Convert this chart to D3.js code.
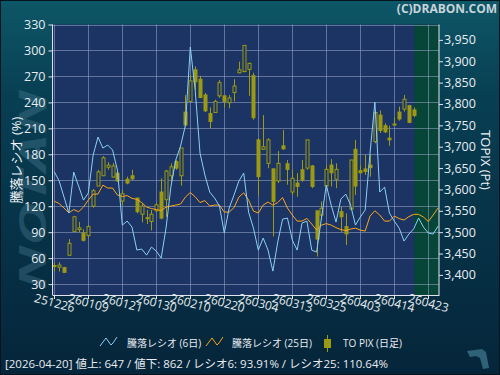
<!DOCTYPE html>
<html>
<head>
<meta charset="utf-8">
<script src="https://cdn.jsdelivr.net/npm/d3@7"></script>
<style>
html, body { margin: 0; padding: 0; background: #06283b; }
svg { display: block; font-family: "Open Sans", "Noto Sans CJK JP", sans-serif; }
</style>
</head>
<body>
<div id="chart"></div>
<script>
const width = 500;
const height = 375;
const plot = { l: 52.5, r: 439, t: 24.5, b: 295 };

// tick labels (every 7 trading days)
const tickLabels = ["251226", "260109", "260121", "260130", "260210", "260220",
  "260304", "260313", "260325", "260403", "260414", "260423"];

// TOPIX daily candles 2025-12-26 .. 2026-04-20
const open = [3422, 3418, 3417, 3446, 3502, 3506, 3498, 3492, 3561, 3608,
  3632, 3652, 3629, 3638, 3573, 3624, 3632, 3580, 3542, 3533,
  3525, 3550, 3594, 3576, 3632, 3665, 3632, 3781, 3806, 3880,
  3858, 3821, 3778, 3780, 3819, 3819, 3803, 3827, 3873, 3876,
  3881, 3866, 3716, 3694, 3661, 3648, 3620, 3702, 3660, 3594,
  3615, 3646, 3650, 3655, 3550, 3540, 3608, 3657, 3624, 3548,
  3513, 3554, 3694, 3644, 3648, 3657, 3712, 3774, 3749, 3720,
  3752, 3781, 3788, 3796, 3786];
const high = [3428, 3430, 3419, 3484, 3538, 3524, 3507, 3517, 3601, 3646,
  3678, 3664, 3662, 3643, 3599, 3630, 3646, 3580, 3568, 3552,
  3552, 3569, 3626, 3646, 3661, 3669, 3697, 3821, 3868, 3888,
  3866, 3826, 3792, 3810, 3856, 3819, 3821, 3858, 3899, 3938,
  3897, 3873, 3720, 3774, 3720, 3650, 3690, 3739, 3669, 3646,
  3638, 3669, 3716, 3657, 3550, 3572, 3657, 3671, 3661, 3560,
  3544, 3669, 3716, 3657, 3681, 3683, 3785, 3785, 3755, 3749,
  3769, 3794, 3821, 3798, 3792];
const low = [3408, 3408, 3405, 3446, 3502, 3500, 3478, 3486, 3557, 3608,
  3632, 3646, 3627, 3618, 3563, 3612, 3621, 3544, 3523, 3519,
  3504, 3547, 3530, 3536, 3618, 3646, 3609, 3746, 3805, 3833,
  3814, 3781, 3743, 3779, 3814, 3792, 3790, 3806, 3872, 3874,
  3819, 3763, 3586, 3693, 3650, 3490, 3615, 3693, 3611, 3587,
  3583, 3618, 3646, 3603, 3443, 3529, 3599, 3607, 3603, 3501,
  3470, 3552, 3587, 3638, 3634, 3630, 3708, 3732, 3732, 3702,
  3751, 3761, 3782, 3755, 3769];
const close = [3421, 3423, 3406, 3474, 3536, 3510, 3481, 3513, 3597, 3641,
  3674, 3657, 3655, 3620, 3590, 3615, 3625, 3548, 3561, 3534,
  3542, 3564, 3533, 3643, 3653, 3650, 3697, 3751, 3854, 3852,
  3815, 3784, 3759, 3806, 3850, 3806, 3814, 3842, 3880, 3937,
  3895, 3768, 3630, 3700, 3716, 3572, 3661, 3695, 3647, 3626,
  3607, 3622, 3716, 3607, 3484, 3556, 3647, 3639, 3647, 3536,
  3496, 3669, 3608, 3639, 3642, 3651, 3780, 3738, 3735, 3716,
  3753, 3765, 3811, 3757, 3773];

// advance/decline ratio (%), runs a few days into the shaded area
const ratio6 = [159.8, 149.1, 130.6, 112.1, 159.5, 143.3, 127.1, 135.2, 179.1, 199.9,
  187.2, 190.7, 184.9, 161.8, 98.2, 102.8, 95.9, 69.3, 70.5, 63.5,
  72.8, 68.1, 60.1, 94.7, 142.1, 173.3, 189.5, 213.8, 304, 254.3,
  181.4, 156, 136.4, 129.4, 120.2, 89, 117.9, 132.9, 149.1, 158.3,
  113.2, 94.7, 69.3, 83.2, 69.3, 45, 78.6, 105.1, 106.3, 80.9,
  69.3, 100.5, 102.8, 69.3, 67, 106.3, 144.4, 121.3, 101.7, 128.3,
  134, 121.3, 98.2, 107.5, 115.5, 181.4, 240.4, 136.4, 142.1, 112.1,
  102.8, 94.7, 79.7, 87.8, 93.9, 106.3, 95.9, 89, 87.8, 97];
const ratio25 = [125.9, 123.1, 117.9, 112.4, 116.1, 113.6, 119, 127.1, 134, 134,
  144.4, 141, 141, 132.9, 131.2, 132.3, 129.1, 127.9, 124.2, 119,
  117.3, 116.1, 115, 119, 120.2, 121.3, 122.5, 130.6, 135.8, 130.9,
  124.2, 126.5, 120.2, 121.3, 121.3, 113.2, 113.2, 118.4, 130.6, 135.5,
  127.1, 114.4, 112.1, 121.3, 124.8, 121.3, 124.2, 130, 117.9, 109.8,
  102.8, 102.8, 105.9, 99.4, 92.4, 98.2, 99.9, 98.2, 95.3, 93,
  91.8, 93.6, 94.7, 92.4, 91.3, 108.6, 114.7, 109.8, 102.8, 102.8,
  108.6, 105.7, 104, 108, 110.6, 110.6, 107.5, 102.3, 109.8, 117.9];

const leftTicks = [30, 60, 90, 120, 150, 180, 210, 240, 270, 300, 330];
const rightTicks = [3400, 3450, 3500, 3550, 3600, 3650, 3700, 3750, 3800, 3850, 3900, 3950];

const statusText = "[2026-04-20]  値上: 647 /  値下: 862 / レシオ6: 93.91% / レシオ25: 110.64%";

const x = d3.scaleLinear().domain([-0.37, 79.2]).range([plot.l, plot.r]);
const yL = d3.scaleLinear().domain([17.4, 330]).range([plot.b, plot.t]);
const yR = d3.scaleLinear().domain([3353, 3986]).range([plot.b, plot.t]);

const svg = d3.select("#chart").append("svg")
  .attr("width", width).attr("height", height)
  .attr("viewBox", `0 0 ${width} ${height}`);

const defs = svg.append("defs");
const bg = defs.append("linearGradient").attr("id", "bg")
  .attr("x1", 0).attr("y1", 0).attr("x2", 0).attr("y2", 1);
bg.append("stop").attr("offset", "0%").attr("stop-color", "#0d5767");
bg.append("stop").attr("offset", "25%").attr("stop-color", "#083f53");
bg.append("stop").attr("offset", "100%").attr("stop-color", "#05253a");

svg.append("rect").attr("width", width).attr("height", height).attr("fill", "url(#bg)");
svg.append("rect").attr("x", 0.5).attr("y", 0.5).attr("width", width - 1).attr("height", height - 1)
  .attr("fill", "none").attr("stroke", "#02141e");

// watermark
svg.append("text")
  .attr("transform", "translate(46,290) rotate(-90)")
  .attr("font-size", 38).attr("font-weight", "bold").attr("font-style", "italic")
  .attr("textLength", 200).attr("lengthAdjust", "spacingAndGlyphs")
  .attr("fill", "#5d8ea4").attr("opacity", 0.3)
  .text("NOTAN");

// plot background
svg.append("rect").attr("x", plot.l).attr("y", plot.t)
  .attr("width", plot.r - plot.l).attr("height", plot.b - plot.t)
  .attr("fill", "#1b3463");
const shadeStart = x(open.length - 1 + 0.12);
svg.append("rect").attr("x", shadeStart).attr("y", plot.t)
  .attr("width", plot.r - shadeStart).attr("height", plot.b - plot.t)
  .attr("fill", "#064537");

// grid
const grid = svg.append("g").attr("stroke", "#9aa8c8").attr("stroke-opacity", 0.55).attr("stroke-width", 1);
leftTicks.forEach(v => {
  grid.append("line").attr("x1", plot.l).attr("x2", plot.r)
    .attr("y1", Math.round(yL(v)) + 0.5).attr("y2", Math.round(yL(v)) + 0.5);
});
tickLabels.forEach((t, k) => {
  const gx = Math.round(x(k * 7)) + 0.5;
  grid.append("line").attr("x1", gx).attr("x2", gx).attr("y1", plot.t).attr("y2", plot.b);
});

// candles
const candles = svg.append("g");
open.forEach((o, i) => {
  const cx = Math.round(x(i)) + 0.5;
  const c = close[i];
  const up = c >= o;
  candles.append("line").attr("x1", cx).attr("x2", cx)
    .attr("y1", yR(high[i])).attr("y2", yR(low[i]))
    .attr("stroke", "#9c9a12").attr("stroke-width", 1);
  const top = yR(Math.max(o, c)), bot = yR(Math.min(o, c));
  candles.append("rect").attr("x", cx - 1.5).attr("width", 3)
    .attr("y", top).attr("height", Math.max(bot - top, 1))
    .attr("fill", up ? "#1b3463" : "#9c9a12")
    .attr("stroke", "#9c9a12").attr("stroke-width", 1);
});

// ratio lines
const lineL = d3.line().x((d, i) => x(i)).y(d => yL(d));
svg.append("path").datum(ratio25).attr("d", lineL)
  .attr("fill", "none").attr("stroke", "#ffa51a").attr("stroke-width", 1);
svg.append("path").datum(ratio6).attr("d", lineL)
  .attr("fill", "none").attr("stroke", "#8ccff5").attr("stroke-width", 1);

// axes
const axisColor = "#dfe4ee";
const leftAxis = svg.append("g").attr("transform", `translate(${plot.l},0)`)
  .call(d3.axisLeft(yL).tickValues(leftTicks).tickSize(4).tickPadding(3));
leftAxis.select(".domain").attr("stroke", axisColor).attr("d", `M0,${plot.t}V${plot.b}`);
leftAxis.selectAll("line").attr("stroke", axisColor);
leftAxis.selectAll("text").attr("fill", "#e8ecf2").attr("font-size", 12.5)
  .attr("font-family", "'Open Sans', sans-serif");

const rightAxis = svg.append("g").attr("transform", `translate(${plot.r},0)`)
  .call(d3.axisRight(yR).tickValues(rightTicks).tickFormat(d3.format(",")).tickSize(4).tickPadding(1));
rightAxis.select(".domain").attr("stroke", axisColor).attr("d", `M0,${plot.t}V${plot.b}`);
rightAxis.selectAll("line").attr("stroke", axisColor);
rightAxis.selectAll("text").attr("fill", "#e8ecf2").attr("font-size", 12.5)
  .attr("font-family", "'Open Sans', sans-serif");

svg.append("line").attr("x1", plot.l).attr("x2", plot.r + 0.5)
  .attr("y1", plot.b + 0.5).attr("y2", plot.b + 0.5).attr("stroke", axisColor);

const xTicks = svg.append("g");
tickLabels.forEach((t, k) => {
  const gx = Math.round(x(k * 7)) + 0.5;
  xTicks.append("line").attr("x1", gx).attr("x2", gx).attr("y1", plot.b).attr("y2", plot.b + 4)
    .attr("stroke", axisColor);
  xTicks.append("text")
    .attr("transform", `translate(${gx},${plot.b + 8}) rotate(15)`)
    .attr("text-anchor", "middle").attr("dy", "0.35em")
    .attr("font-size", 12).attr("fill", "#e8ecf2")
    .text(t);
});

// axis titles
svg.append("text").attr("transform", "translate(21,160) rotate(-90)")
  .attr("text-anchor", "middle").attr("font-size", 13).attr("fill", "#eef2f6")
  .text("騰落レシオ (%)");
svg.append("text").attr("transform", "translate(481,160) rotate(90)")
  .attr("text-anchor", "middle").attr("font-size", 13).attr("fill", "#eef2f6")
  .text("TOPIX (Pt)");

// copyright
svg.append("text").attr("x", 497).attr("y", 13).attr("text-anchor", "end")
  .attr("font-size", 12).attr("font-weight", "bold").attr("fill", "#c9d3da")
  .text("(C)DRABON.COM");

// legend
const legend = svg.append("g").attr("font-size", 10).attr("fill", "#e8ecf2");
legend.append("polyline").attr("points", "100,346 106,338 111,345 113,343 117,337")
  .attr("fill", "none").attr("stroke", "#8ccff5");
legend.append("text").attr("x", 127).attr("y", 347).text("騰落レシオ (6日)");
legend.append("polyline").attr("points", "206,346 212,338 217,345 219,343 223,337")
  .attr("fill", "none").attr("stroke", "#ffa51a");
legend.append("text").attr("x", 232).attr("y", 347).text("騰落レシオ (25日)");
legend.append("line").attr("x1", 327.5).attr("x2", 327.5).attr("y1", 335).attr("y2", 352)
  .attr("stroke", "#9c9a12");
legend.append("rect").attr("x", 324.5).attr("y", 339.5).attr("width", 6).attr("height", 8)
  .attr("fill", "#9c9a12").attr("stroke", "#9c9a12");
legend.append("text").attr("x", 343).attr("y", 347).text("TO PIX (日足)");

// status line
svg.append("text").attr("x", 5).attr("y", 368).attr("font-size", 11.5).attr("fill", "#e8ecf2")
  .attr("textLength", 383).attr("lengthAdjust", "spacingAndGlyphs")
  .text(statusText);

// corner mark
svg.append("path").attr("d", "M467,351 L482,349 L486,352 L489,368 L483,369 L480,358 L476,356 L470,357 Z")
  .attr("fill", "#2f6178");
</script>
</body>
</html>
